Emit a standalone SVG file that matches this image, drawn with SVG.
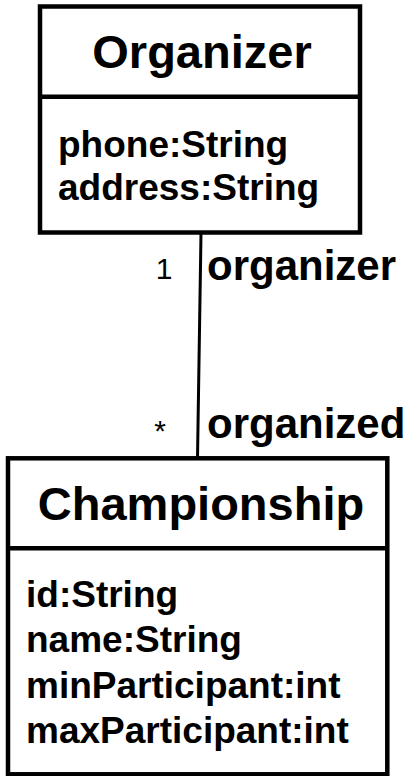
<svg xmlns="http://www.w3.org/2000/svg" width="412" height="776" viewBox="0 0 412 776">
<style>
.box{fill:#fff;stroke:#000;stroke-width:4.5}
.div{stroke:#000;stroke-width:4.5}
.title{font-family:"Liberation Sans",Arial,sans-serif;font-weight:bold;font-size:47px;text-anchor:middle;fill:#000}
.attr{font-family:"Liberation Sans",Arial,sans-serif;font-weight:bold;font-size:37px;fill:#000}
.role{font-family:"Liberation Sans",Arial,sans-serif;font-weight:bold;font-size:42px;fill:#000}
.mult{font-family:"Liberation Sans",Arial,sans-serif;font-size:30px;text-anchor:end;fill:#000}
.edge{stroke:#000;stroke-width:3;fill:none}
</style>
<rect width="412" height="776" fill="#fff"/>
<g id="connectors">
<line class="edge" x1="201" y1="233" x2="197.5" y2="458"/>
<text class="mult" x="172.5" y="278.5">1</text>
<text class="role" x="207" y="280">organizer</text>
<text class="mult" x="166" y="441">*</text>
<text class="role" x="207" y="438">organized</text>
</g>
<g id="Organizer">
<rect class="box" x="40" y="6.5" width="320" height="226"/>
<line class="div" x1="40" y1="96.7" x2="360" y2="96.7"/>
<text class="title" x="202" y="68">Organizer</text>
<text class="attr" x="58" y="157">phone:String</text>
<text class="attr" x="58" y="200">address:String</text>
</g>
<g id="Championship">
<rect class="box" x="8" y="458.3" width="379.3" height="316"/>
<line class="div" x1="8" y1="548.3" x2="387.3" y2="548.3"/>
<text class="title" x="201" y="520">Championship</text>
<text class="attr" x="26" y="607">id:String</text>
<text class="attr" x="26" y="652">name:String</text>
<text class="attr" x="26" y="698">minParticipant:int</text>
<text class="attr" x="26" y="743">maxParticipant:int</text>
</g>
</svg>
